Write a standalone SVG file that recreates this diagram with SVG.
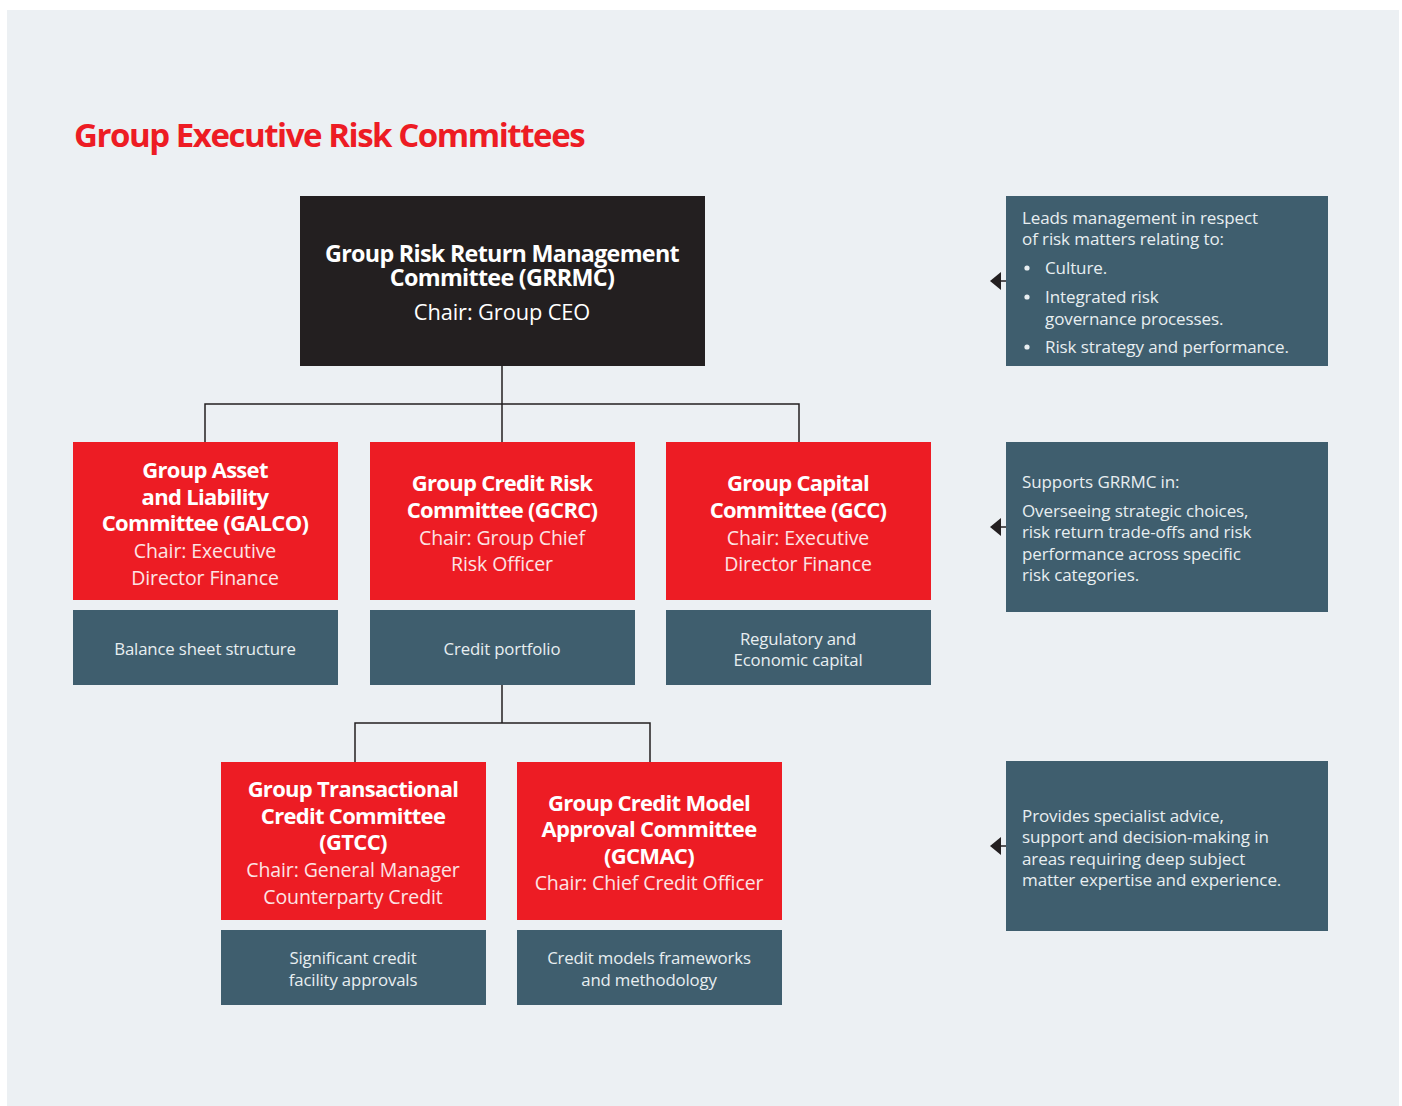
<svg xmlns="http://www.w3.org/2000/svg" width="1402" height="1106" viewBox="0 0 1402 1106">
<defs>
<style>
.bg{fill:#ECF0F3}
.blk{fill:#231F20}
.red{fill:#ED1C24}
.sl{fill:#3F5E6E}
.t{font-family:"Open Sans","Noto Sans","Liberation Sans",sans-serif;text-anchor:middle}
.h{font-weight:700;font-size:22px;fill:#FFFFFF;letter-spacing:-0.7px}
.c{font-weight:400;font-size:19.5px;fill:#FCE4E4;letter-spacing:-0.1px}
.s{font-weight:400;font-size:16.8px;fill:#E8EEF1;letter-spacing:-0.15px}
.r{font-family:"Open Sans","Noto Sans","Liberation Sans",sans-serif;font-weight:400;font-size:17px;fill:#E8EEF1;letter-spacing:-0.1px}
.ln{stroke:#231F20;stroke-width:1.5;fill:none}
</style>
</defs>
<rect class="bg" x="7" y="10" width="1392" height="1096"/>
<text x="74" y="147" font-family="Open Sans,Noto Sans,Liberation Sans,sans-serif" font-weight="700" font-size="33" fill="#ED1C24" letter-spacing="-1.45">Group Executive Risk Committees</text>

<g id="connectors">
<path class="ln" d="M502,366 V404 M205,442 V404 H799 V442 M502,404 V442"/>
<path class="ln" d="M502,685 V723 M355,762 V723 H650 V762"/>
<path d="M1006,281 H1000" stroke="#231F20" stroke-width="1.5"/>
<path d="M1001,272 L990,281 L1001,290 Z" fill="#231F20"/>
<path d="M1006,527 H1000" stroke="#231F20" stroke-width="1.5"/>
<path d="M1001,518 L990,527 L1001,536 Z" fill="#231F20"/>
<path d="M1006,846 H1000" stroke="#231F20" stroke-width="1.5"/>
<path d="M1001,837 L990,846 L1001,855 Z" fill="#231F20"/>
</g>

<g id="grrmc">
<rect class="blk" x="300" y="196" width="405" height="170"/>
<text class="t h" x="502" y="262" style="font-size:23.3px">Group Risk Return Management</text>
<text class="t h" x="502" y="286" style="font-size:23.3px">Committee (GRRMC)</text>
<text class="t c" x="502" y="320" style="font-size:21.8px;fill:#FFFFFF">Chair: Group CEO</text>
</g>

<g id="galco">
<rect class="red" x="73" y="442" width="265" height="158"/>
<text class="t h" x="205" y="478">Group Asset</text>
<text class="t h" x="205" y="505">and Liability</text>
<text class="t h" x="205" y="531">Committee (GALCO)</text>
<text class="t c" x="205" y="558">Chair: Executive</text>
<text class="t c" x="205" y="585">Director Finance</text>
</g>
<g id="galco-scope">
<rect class="sl" x="73" y="610" width="265" height="75"/>
<text class="t s" x="205" y="655">Balance sheet structure</text>
</g>

<g id="gcrc">
<rect class="red" x="370" y="442" width="265" height="158"/>
<text class="t h" x="502" y="491">Group Credit Risk</text>
<text class="t h" x="502" y="518">Committee (GCRC)</text>
<text class="t c" x="502" y="545">Chair: Group Chief</text>
<text class="t c" x="502" y="571">Risk Officer</text>
</g>
<g id="gcrc-scope">
<rect class="sl" x="370" y="610" width="265" height="75"/>
<text class="t s" x="502" y="655">Credit portfolio</text>
</g>

<g id="gcc">
<rect class="red" x="666" y="442" width="265" height="158"/>
<text class="t h" x="798" y="491">Group Capital</text>
<text class="t h" x="798" y="518">Committee (GCC)</text>
<text class="t c" x="798" y="545">Chair: Executive</text>
<text class="t c" x="798" y="571">Director Finance</text>
</g>
<g id="gcc-scope">
<rect class="sl" x="666" y="610" width="265" height="75"/>
<text class="t s" x="798" y="645">Regulatory and</text>
<text class="t s" x="798" y="666">Economic capital</text>
</g>

<g id="gtcc">
<rect class="red" x="221" y="762" width="265" height="158"/>
<text class="t h" x="353" y="797">Group Transactional</text>
<text class="t h" x="353" y="824">Credit Committee</text>
<text class="t h" x="353" y="850">(GTCC)</text>
<text class="t c" x="353" y="877">Chair: General Manager</text>
<text class="t c" x="353" y="904">Counterparty Credit</text>
</g>
<g id="gtcc-scope">
<rect class="sl" x="221" y="930" width="265" height="75"/>
<text class="t s" x="353" y="964">Significant credit</text>
<text class="t s" x="353" y="986">facility approvals</text>
</g>

<g id="gcmac">
<rect class="red" x="517" y="762" width="265" height="158"/>
<text class="t h" x="649" y="811">Group Credit Model</text>
<text class="t h" x="649" y="837">Approval Committee</text>
<text class="t h" x="649" y="864">(GCMAC)</text>
<text class="t c" x="649" y="890">Chair: Chief Credit Officer</text>
</g>
<g id="gcmac-scope">
<rect class="sl" x="517" y="930" width="265" height="75"/>
<text class="t s" x="649" y="964">Credit models frameworks</text>
<text class="t s" x="649" y="986">and methodology</text>
</g>

<g id="note-grrmc">
<rect class="sl" x="1006" y="196" width="322" height="170"/>
<text class="r" x="1022" y="224">Leads management in respect</text>
<text class="r" x="1022" y="245">of risk matters relating to:</text>
<circle cx="1027" cy="268" r="2.6" fill="#E8EEF1"/>
<text class="r" x="1045" y="274">Culture.</text>
<circle cx="1027" cy="297" r="2.6" fill="#E8EEF1"/>
<text class="r" x="1045" y="303">Integrated risk</text>
<text class="r" x="1045" y="325">governance processes.</text>
<circle cx="1027" cy="347" r="2.6" fill="#E8EEF1"/>
<text class="r" x="1045" y="353">Risk strategy and performance.</text>
</g>

<g id="note-level2">
<rect class="sl" x="1006" y="442" width="322" height="170"/>
<text class="r" x="1022" y="488">Supports GRRMC in:</text>
<text class="r" x="1022" y="517">Overseeing strategic choices,</text>
<text class="r" x="1022" y="538">risk return trade-offs and risk</text>
<text class="r" x="1022" y="560">performance across specific</text>
<text class="r" x="1022" y="581">risk categories.</text>
</g>

<g id="note-level3">
<rect class="sl" x="1006" y="761" width="322" height="170"/>
<text class="r" x="1022" y="822">Provides specialist advice,</text>
<text class="r" x="1022" y="843">support and decision-making in</text>
<text class="r" x="1022" y="865">areas requiring deep subject</text>
<text class="r" x="1022" y="886">matter expertise and experience.</text>
</g>
</svg>
